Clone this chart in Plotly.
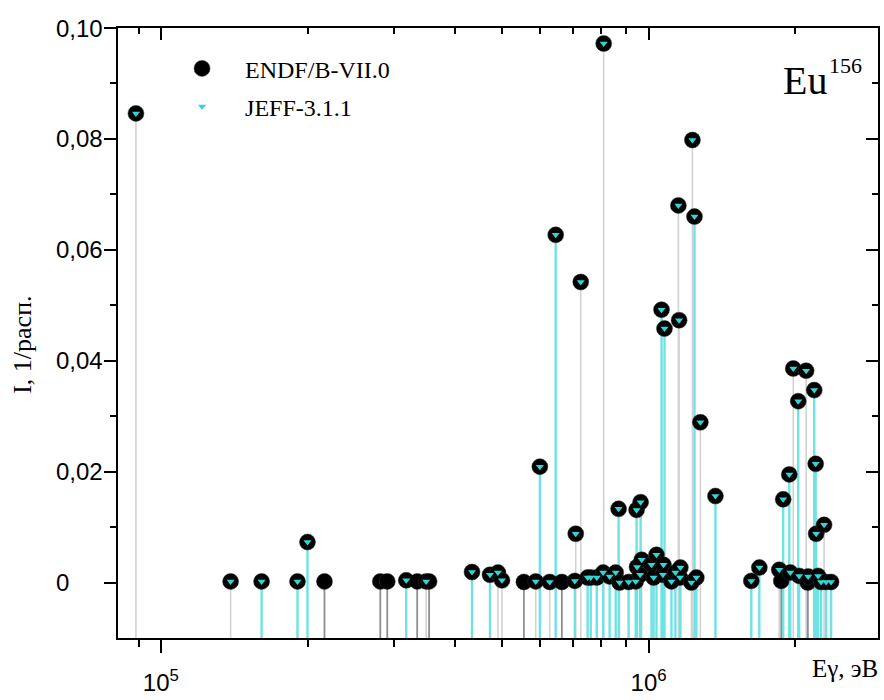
import plotly.graph_objects as go

# Eu-156 gamma lines: energy (keV), intensity per decay in ENDF/B-VII.0 and JEFF-3.1.1
energy_kev = [
    88.9, 139.0, 160.9, 190.6, 199.8, 216.5, 281.8, 291.2, 318.5, 335.4,
    349.9, 354.8, 434.5, 473.0, 491.0, 500.5, 555.0, 587.0, 598.5, 627.0,
    645.0, 664.0, 706.0, 709.0, 726.0, 750.0, 761.0, 783.0, 807.0, 809.0,
    832.0, 856.0, 868.0, 872.0, 910.0, 941.0, 945.0, 947.0, 961.0, 963.0,
    968.0, 1014.0, 1024.0, 1038.0, 1063.0, 1070.0, 1073.0, 1078.0, 1114.0, 1135.0,
    1151.0, 1155.0, 1160.0, 1162.0, 1224.0, 1230.0, 1242.0, 1253.0, 1277.0, 1371.0,
    1624.0, 1687.0, 1853.0, 1871.0, 1888.0, 1943.0, 1952.0, 1980.0, 2027.0, 2036.0,
    2104.0, 2120.0, 2124.0, 2186.0, 2201.0, 2206.0, 2226.0, 2258.0, 2290.0, 2312.0,
    2367.0,
]
endf_int = [
    0.0846, 0.0002, 0.0002, 0.0002, 0.0073, 0.0002, 0.0002, 0.0002, 0.0004, 0.0002,
    0.0002, 0.0002, 0.0019, 0.0014, 0.0018, 0.0004, 0.0001, 0.0002, 0.0209, 0.0001,
    0.0627, 0.0001, 0.0003, 0.0088, 0.0542, 0.0009, 0.0009, 0.0009, 0.0018, 0.0972,
    0.0011, 0.0018, 0.0133, 0.0000, 0.0001, 0.0002, 0.0131, 0.0028, 0.0014, 0.0145,
    0.0041, 0.0032, 0.0009, 0.0050, 0.0492, 0.0014, 0.0032, 0.0458, 0.0002, 0.0018,
    0.0680, 0.0473, 0.0009, 0.0027, 0.0000, 0.0798, 0.0660, 0.0009, 0.0289, 0.0156,
    0.0003, 0.0027, 0.0023, 0.0003, 0.0150, 0.0195, 0.0018, 0.0386, 0.0327, 0.0012,
    0.0382, 0.0000, 0.0011, 0.0347, 0.0214, 0.0088, 0.0012, 0.0001, 0.0104, 0.0001,
    0.0001,
]
jeff_int = [
    0.0846, 0.0002, 0.0002, 0.0002, 0.0073, None, None, None, 0.0004, None,
    0.0002, None, 0.0019, 0.0014, 0.0018, 0.0004, None, 0.0002, 0.0209, 0.0001,
    0.0627, None, 0.0003, 0.0088, 0.0542, 0.0009, 0.0009, 0.0009, 0.0018, 0.0972,
    0.0011, 0.0018, 0.0133, 0.0000, 0.0001, 0.0002, 0.0131, 0.0028, 0.0014, 0.0145,
    0.0041, 0.0032, 0.0009, 0.0050, 0.0492, 0.0014, 0.0032, 0.0458, 0.0002, 0.0018,
    0.0680, 0.0473, 0.0009, 0.0027, 0.0000, 0.0798, 0.0660, 0.0009, 0.0289, 0.0156,
    0.0003, 0.0027, 0.0023, None, 0.0150, 0.0195, 0.0018, 0.0386, 0.0327, 0.0012,
    0.0382, None, 0.0011, 0.0347, 0.0214, 0.0088, 0.0012, 0.0001, 0.0104, 0.0001,
    0.0001,
]
# lines whose JEFF-3.1.1 drop line is shown (1) or hidden behind the ENDF one (0)
jeff_drop = [
    0, 0, 1, 1, 1, 0, 0, 0, 1, 0,
    0, 0, 1, 1, 0, 0, 0, 0, 1, 0,
    1, 0, 1, 0, 0, 1, 1, 1, 1, 0,
    1, 1, 1, 0, 1, 1, 1, 1, 1, 1,
    0, 1, 1, 1, 1, 1, 1, 1, 1, 1,
    0, 0, 1, 1, 0, 0, 1, 1, 0, 1,
    1, 1, 0, 0, 1, 1, 1, 0, 1, 1,
    0, 0, 0, 1, 1, 1, 1, 1, 0, 1,
    1,
]

x_tick_vals = [1e5, 1e6]
x_tick_text = ["10<sup>5</sup>", "10<sup>6</sup>"]
x_minor_vals = [9e4, 2e5, 3e5, 4e5, 5e5, 6e5, 7e5, 8e5, 9e5, 2e6]
y_tick_vals = [0, 0.02, 0.04, 0.06, 0.08, 0.10]
y_tick_text = ["0", "0,02", "0,04", "0,06", "0,08", "0,10"]
y_minor_vals = [0.01, 0.03, 0.05, 0.07, 0.09]

X_RANGE = [4.9121, 6.4704]   # log10(eV)
Y_RANGE = [-0.01, 0.10]

energy_ev = [e * 1000.0 for e in energy_kev]


def drops(xs, ys):
    """Vertical drop lines from the bottom of the axis to each value."""
    px, py = [], []
    for x, y in zip(xs, ys):
        px += [x, x, None]
        py += [Y_RANGE[0], y, None]
    return px, py


endf_only = [(x, y) for x, y, j in zip(energy_ev, endf_int, jeff_int) if j is None]
endf_shared = [(x, y) for x, y, j, d in zip(energy_ev, endf_int, jeff_int, jeff_drop)
               if j is not None and not d]
jeff_lines = [(x, j) for x, j, d in zip(energy_ev, jeff_int, jeff_drop)
              if j is not None and d]
jeff_pts = [(x, j) for x, j in zip(energy_ev, jeff_int) if j is not None]

fig = go.Figure()

for pts, color, width in [(endf_shared, "#d2d2d2", 1.6),
                          (endf_only, "#8e8e8e", 1.8),
                          (jeff_lines, "#6fe3e3", 2.4)]:
    lx, ly = drops([p[0] for p in pts], [p[1] for p in pts])
    fig.add_trace(go.Scatter(x=lx, y=ly, mode="lines", showlegend=False,
                             hoverinfo="skip",
                             line=dict(color=color, width=width)))

fig.add_trace(go.Scatter(
    x=energy_ev, y=endf_int, mode="markers", name="ENDF/B-VII.0",
    legendgroup="endf",
    marker=dict(symbol="circle", size=16, color="black",
                line=dict(color="#333333", width=0.5)),
))
fig.add_trace(go.Scatter(
    x=[p[0] for p in jeff_pts], y=[p[1] for p in jeff_pts], mode="markers",
    name="JEFF-3.1.1", legendgroup="jeff",
    marker=dict(symbol="triangle-down", size=7, color="#2fd6d6", line=dict(width=0)),
))

# transparent copies of the ENDF points on the overlaid frame-tick axes
for xa, ya in [("x2", "y2"), ("x3", "y3")]:
    fig.add_trace(go.Scatter(x=energy_ev, y=endf_int, xaxis=xa, yaxis=ya,
                             mode="markers", marker=dict(opacity=0),
                             showlegend=False, hoverinfo="skip"))

AX_FONT = dict(family="Liberation Sans, Arial, sans-serif", size=24, color="black")
SERIF = "Liberation Serif, Times New Roman, serif"


def frame_xaxis(vals, length):
    """Top-side log axis carrying only inward ticks."""
    return dict(type="log", range=X_RANGE, overlaying="x", side="top",
                showgrid=False, zeroline=False,
                tickmode="array", tickvals=vals, ticktext=[""] * len(vals),
                ticks="inside", ticklen=length, tickwidth=2, tickcolor="black")


def frame_yaxis(vals, length):
    """Right-side axis carrying only inward ticks."""
    return dict(range=Y_RANGE, overlaying="y", side="right",
                showgrid=False, zeroline=False,
                tickmode="array", tickvals=vals, ticktext=[""] * len(vals),
                ticks="inside", ticklen=length, tickwidth=2, tickcolor="black")


fig.update_layout(
    width=884, height=700,
    margin=dict(l=118, r=4, t=28, b=50),
    paper_bgcolor="white", plot_bgcolor="white",
    showlegend=True,
    legend=dict(x=0.054, y=0.97, xanchor="left", yanchor="top",
                font=dict(family=SERIF, size=24, color="black"),
                bgcolor="rgba(0,0,0,0)", traceorder="grouped",
                tracegroupgap=4, itemwidth=76, itemsizing="trace"),
    xaxis=dict(
        type="log", range=X_RANGE, showgrid=False, zeroline=False,
        showline=True, linecolor="black", linewidth=2, mirror=True,
        tickmode="array", tickvals=x_tick_vals, ticktext=x_tick_text,
        ticks="outside", ticklen=13, tickwidth=2, tickcolor="black",
        tickfont=AX_FONT, ticklabelstandoff=9,
        minor=dict(tickmode="array", tickvals=x_minor_vals, ticks="outside",
                   ticklen=7, tickwidth=2, tickcolor="black", showgrid=False),
    ),
    yaxis=dict(
        range=Y_RANGE, showgrid=False, zeroline=False,
        showline=True, linecolor="black", linewidth=2, mirror=True,
        tickmode="array", tickvals=y_tick_vals, showticklabels=False,
        ticks="outside", ticklen=12, tickwidth=2, tickcolor="black",
        minor=dict(tickmode="array", tickvals=y_minor_vals, ticks="outside",
                   ticklen=6, tickwidth=2, tickcolor="black", showgrid=False),
    ),
    xaxis2=frame_xaxis(x_tick_vals, 12),
    yaxis2=frame_yaxis(y_tick_vals, 12),
    xaxis3=frame_xaxis(x_minor_vals, 6),
    yaxis3=frame_yaxis(y_minor_vals, 6),
)

# left-aligned y tick labels
for v, t in zip(y_tick_vals, y_tick_text):
    fig.add_annotation(x=-0.084, xref="paper", y=v, yref="y", text=t,
                       showarrow=False, xanchor="left", yanchor="middle",
                       font=AX_FONT)

# axis titles
fig.add_annotation(x=1.003, xref="paper", y=-0.05, yref="paper",
                   text="Eγ, эВ", showarrow=False, xanchor="right",
                   yanchor="middle", font=dict(family=SERIF, size=25, color="black"))
fig.add_annotation(x=-0.126, xref="paper", y=0.481, yref="paper",
                   text="I, 1/расп.", showarrow=False, textangle=-90,
                   xanchor="center", yanchor="middle",
                   font=dict(family=SERIF, size=26, color="black"))

# nuclide label
fig.add_annotation(x=0.904, xref="paper", y=0.873, yref="paper", text="Eu",
                   showarrow=False, xanchor="center", yanchor="bottom",
                   font=dict(family=SERIF, size=40, color="black"))
fig.add_annotation(x=0.957, xref="paper", y=0.962, yref="paper", text="156",
                   showarrow=False, xanchor="center", yanchor="top",
                   font=dict(family=SERIF, size=22, color="black"))

fig.write_html("out.html")
